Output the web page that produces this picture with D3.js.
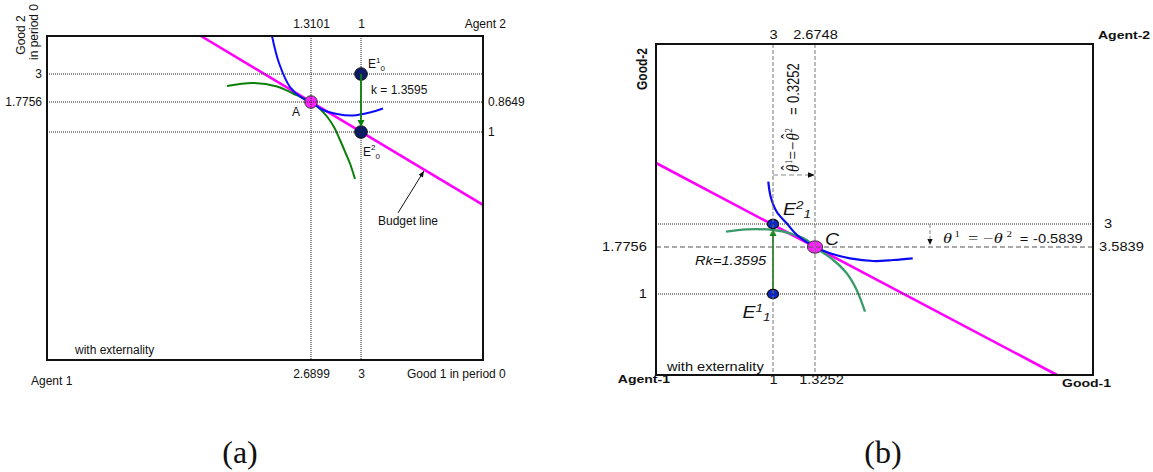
<!DOCTYPE html>
<html><head><meta charset="utf-8">
<script src="https://cdn.jsdelivr.net/npm/d3@7"></script>
<style>body{margin:0;background:#fff} svg{display:block}</style>
</head><body>
<svg id="c" width="1153" height="472"></svg>
<script>
// ================= DATA : panel (a) =================
const aXKnots = [0, 2.6899, 3, 4];            // agent-1 good 1 (schematic knots)
const aYKnots = [0, 1, 1.7756, 3, 4.5];       // agent-1 good 2 (schematic knots)
const aGridX = [2.6899, 3];
const aGridY = [3, 1.7756, 1];
const aBottomTicks = [2.6899, 3];
const aBottomLabels = ["2.6899", "3"];
const aTopLabels = ["1.3101", "1"];
const aLeftTicks = [3, 1.7756];
const aLeftLabels = ["3", "1.7756"];
const aRightTicks = [1.7756, 1];
const aRightLabels = ["0.8649", "1"];
const aBudget = [[1.569, 4.5], [4, 0.680]];
const aBlueCurve = [[2.2925, 4.5], [2.3638, 3.434], [2.4759, 2.4316], [2.5982, 1.9505], [2.6899, 1.7756],
  [2.7581, 1.5817], [2.8511, 1.4654], [2.9504, 1.4266], [3.0738, 1.5041], [3.1803, 1.6075]];
const aGreenCurve = [[1.834, 2.4753], [2.0989, 2.6065], [2.3435, 2.4534], [2.5065, 2.1473], [2.6899, 1.7756],
  [2.7457, 1.5946], [2.7891, 1.4007], [2.8325, 1.1293], [2.8698, 0.9649], [2.9070, 0.9035], [2.9318, 0.8618], [2.9628, 0.7939]];
const aEndowments = [[3, 3], [3, 1]];
const aEquilibrium = [2.6899, 1.7756];
const aTransfer = [[3, 3], [3, 1.129]];
const aPointer = [[3.303, 0.645], [3.516, 0.829]];

// ================= DATA : panel (b) =================
const bXKnots = [0, 1, 1.3252, 4];
const bYKnots = [0, 1, 1.7756, 2.3595, 5.3595];
const bGridX = [1, 1.3252];
const bGridYDotted = [2.3595, 1];
const bGridYDashed = [1.7756];
const bBottomTicks = [1, 1.3252];
const bBottomLabels = ["1", "1.3252"];
const bTopLabels = ["3", "2.6748"];
const bLeftTicks = [1.7756, 1];
const bLeftLabels = ["1.7756", "1"];
const bRightTicks = [2.3595, 1.7756];
const bRightLabels = ["3", "3.5839"];
const bBudget = [[0, 3.376], [3.6537, 0]];
const bBlueCurve = [[0.9598, 3.0645], [0.9803, 2.8145], [1.0286, 2.5645], [1.1061, 2.3712], [1.1858, 2.0802], [1.3252, 1.7756],
  [1.4695, 1.6716], [1.6620, 1.5891], [1.8862, 1.5446], [2.0786, 1.5611], [2.2653, 1.5891]];
const bGreenCurve = [[0.5983, 2.1640], [0.7752, 2.2249], [1.0023, 2.2072], [1.1316, 2.1234], [1.2609, 1.9533], [1.3252, 1.7756],
  [1.5013, 1.5611], [1.6302, 1.3416], [1.7264, 1.0660], [1.8063, 0.7815]];
const bEndowments = [[1, 2.3595], [1, 1]];
const bEquilibrium = [1.3252, 1.7756];
const bTransfer = [[1, 1], [1, 2.2326]];
const bThetaHatArrow = [[1, 3.1762], [1.3252, 3.1762]];
const bThetaArrow = [[2.4317, 2.3595], [2.4317, 1.8264]];

// ================= LAYOUT =================
const SANS = "'Liberation Sans', Arial, sans-serif";
const SERIF = "'Liberation Serif', 'Times New Roman', serif";
const A = {x0: 47, x1: 483, y0: 36, y1: 360, xr: [47, 311, 361, 483], yr: [360, 132, 102, 74, 36]};
const B = {x0: 656, x1: 1093, y0: 44, y1: 375, xr: [656, 773, 815, 1093], yr: [375, 294, 247, 224, 44]};
const SX = 1.22; // horizontal stretch of panel (b) lettering

const svg = d3.select("#c");

function label(g, x, y, parts, o = {}) {
  const t = g.append("text")
    .attr("transform", `translate(${x},${y})` + (o.sx ? ` scale(${o.sx},1)` : "") + (o.rot ? ` rotate(${o.rot})` : ""))
    .attr("text-anchor", o.anchor || "start")
    .attr("font-family", o.family || SANS)
    .attr("font-size", o.size || 12)
    .attr("font-weight", o.weight || "normal")
    .attr("font-style", o.style || "normal")
    .attr("fill", o.fill || "#111");
  if (typeof parts === "string") t.text(parts);
  else parts.forEach(p => { const s = t.append("tspan").text(p.t); for (const k in p) if (k !== "t") s.attr(k, p[k]); });
  return t;
}
function arrowHead(g, p0, p1, len, half, fill) {
  const dx = p1[0] - p0[0], dy = p1[1] - p0[1], L = Math.hypot(dx, dy), ux = dx / L, uy = dy / L;
  const bx = p1[0] - ux * len, by = p1[1] - uy * len;
  g.append("path").attr("d", `M${p1[0]},${p1[1]}L${bx - uy * half},${by + ux * half}L${bx + uy * half},${by - ux * half}Z`)
    .attr("fill", fill).attr("stroke", "none");
}
function styleAxis(g, size, stretch, shifts) {
  g.select(".domain").remove();
  g.selectAll(".tick line").remove();
  g.selectAll("text").attr("font-family", SANS).attr("font-size", size).attr("fill", "#111");
  if (stretch) g.selectAll("text").attr("transform", `scale(${stretch},1)`);
  if (shifts) g.selectAll(".tick text").attr("dx", (d, i) => shifts[i] / (stretch || 1));
}

// ================= PANEL (a) =================
{
  const g = svg.append("g");
  const x = d3.scaleLinear().domain(aXKnots).range(A.xr);
  const y = d3.scaleLinear().domain(aYKnots).range(A.yr);
  const line = d3.line().x(d => x(d[0])).y(d => y(d[1]));
  const smooth = d3.line().x(d => x(d[0])).y(d => y(d[1])).curve(d3.curveCatmullRom.alpha(0.5));

  g.append("path").attr("d", line(aBudget)).attr("stroke", "#ff00ff").attr("stroke-width", 2.6).attr("fill", "none");
  g.append("path").attr("d", smooth(aGreenCurve)).attr("stroke", "#0a800a").attr("stroke-width", 2).attr("fill", "none");
  g.append("path").attr("d", smooth(aBlueCurve)).attr("stroke", "#0a0aff").attr("stroke-width", 2).attr("fill", "none");

  g.selectAll(".endow").data(aEndowments).join("circle")
    .attr("cx", d => x(d[0])).attr("cy", d => y(d[1])).attr("r", 6.3)
    .attr("fill", "#0b1a6e").attr("stroke", "#111").attr("stroke-width", 1);
  g.append("circle").attr("cx", x(aEquilibrium[0])).attr("cy", y(aEquilibrium[1])).attr("r", 6.3)
    .attr("fill", "#ff22ff").attr("stroke", "#333").attr("stroke-width", 1);

  // dotted guides
  aGridX.forEach(v => g.append("line").attr("x1", x(v)).attr("x2", x(v)).attr("y1", A.y0).attr("y2", A.y1)
    .attr("stroke", "#222").attr("stroke-width", 1).attr("stroke-dasharray", "1,1"));
  aGridY.forEach(v => g.append("line").attr("x1", A.x0).attr("x2", A.x1).attr("y1", y(v)).attr("y2", y(v))
    .attr("stroke", "#222").attr("stroke-width", 1).attr("stroke-dasharray", "1,1"));

  // transfer arrow
  const t0 = [x(aTransfer[0][0]), y(aTransfer[0][1])], t1 = [x(aTransfer[1][0]), y(aTransfer[1][1])];
  g.append("line").attr("x1", t0[0]).attr("y1", t0[1]).attr("x2", t1[0]).attr("y2", t1[1] - 5)
    .attr("stroke", "#0a800a").attr("stroke-width", 1.8);
  arrowHead(g, t0, t1, 7, 3.5, "#0a800a");

  // budget line pointer
  const p0 = [x(aPointer[0][0]), y(aPointer[0][1])], p1 = [x(aPointer[1][0]), y(aPointer[1][1])];
  g.append("line").attr("x1", p0[0]).attr("y1", p0[1]).attr("x2", p1[0]).attr("y2", p1[1]).attr("stroke", "#111").attr("stroke-width", 1);
  arrowHead(g, p0, p1, 6, 2.5, "#111");

  // frame
  g.append("rect").attr("x", A.x0).attr("y", A.y0).attr("width", A.x1 - A.x0).attr("height", A.y1 - A.y0)
    .attr("fill", "none").attr("stroke", "#111").attr("stroke-width", 2);

  // axes (labels only)
  g.append("g").attr("transform", `translate(0,${A.y1})`)
    .call(d3.axisBottom(x).tickValues(aBottomTicks).tickSize(0).tickPadding(9.5).tickFormat(d => aBottomLabels[aBottomTicks.indexOf(d)]))
    .call(s => styleAxis(s, 12));
  g.append("g").attr("transform", `translate(0,${A.y0})`)
    .call(d3.axisTop(x).tickValues(aBottomTicks).tickSize(0).tickPadding(8).tickFormat(d => aTopLabels[aBottomTicks.indexOf(d)]))
    .call(s => styleAxis(s, 12));
  g.append("g").attr("transform", `translate(${A.x0},0)`)
    .call(d3.axisLeft(y).tickValues(aLeftTicks).tickSize(0).tickPadding(5).tickFormat(d => aLeftLabels[aLeftTicks.indexOf(d)]))
    .call(s => styleAxis(s, 12));
  g.append("g").attr("transform", `translate(${A.x1},0)`)
    .call(d3.axisRight(y).tickValues(aRightTicks).tickSize(0).tickPadding(5).tickFormat(d => aRightLabels[aRightTicks.indexOf(d)]))
    .call(s => styleAxis(s, 12, null, [0, 0]));

  const ex = x(aEndowments[0][0]);
  label(g, ex + 7, y(aEndowments[0][1]) - 6, [{t: "E"}, {t: "1", "font-size": 8, dy: -5}, {t: "0", "font-size": 8, dy: 8}]);
  label(g, ex + 10, 94, "k = 1.3595");
  label(g, x(aEquilibrium[0]) - 19, y(aEquilibrium[1]) + 14, "A");
  label(g, ex + 2, y(aEndowments[1][1]) + 24, [{t: "E"}, {t: "2", "font-size": 8, dy: -6}, {t: "0", "font-size": 8, dy: 9}]);
  label(g, 378, 225, "Budget line");
  label(g, 75, 354, "with externality");
  label(g, 31, 385, "Agent 1");
  label(g, 506, 28, "Agent 2", {anchor: "end"});
  label(g, 407, 378, "Good 1 in period 0");
  label(g, 24.5, 35, "Good 2", {anchor: "middle", rot: -90});
  label(g, 37.5, 32, "in period 0", {anchor: "middle", rot: -90});
  label(g, 240, 463, "(a)", {anchor: "middle", family: SERIF, size: 32});
}

// ================= PANEL (b) =================
{
  const g = svg.append("g");
  const x = d3.scaleLinear().domain(bXKnots).range(B.xr);
  const y = d3.scaleLinear().domain(bYKnots).range(B.yr);
  const line = d3.line().x(d => x(d[0])).y(d => y(d[1]));
  const smooth = d3.line().x(d => x(d[0])).y(d => y(d[1])).curve(d3.curveCatmullRom.alpha(0.5));

  g.append("path").attr("d", line(bBudget)).attr("stroke", "#ff00ff").attr("stroke-width", 2.6).attr("fill", "none");
  g.append("path").attr("d", smooth(bGreenCurve)).attr("stroke", "#3a9a6a").attr("stroke-width", 2.3).attr("fill", "none");
  g.append("path").attr("d", smooth(bBlueCurve)).attr("stroke", "#0a0af0").attr("stroke-width", 2.2).attr("fill", "none");

  // transfer arrow (under endowment dots)
  const t0 = [x(bTransfer[0][0]), y(bTransfer[0][1])], t1 = [x(bTransfer[1][0]), y(bTransfer[1][1])];
  g.append("line").attr("x1", t0[0]).attr("y1", t0[1]).attr("x2", t1[0]).attr("y2", t1[1] + 5)
    .attr("stroke", "#108a10").attr("stroke-width", 1.8);
  arrowHead(g, t0, t1, 7, 3.5, "#108a10");

  g.selectAll(".endow").data(bEndowments).join("ellipse")
    .attr("cx", d => x(d[0])).attr("cy", d => y(d[1])).attr("rx", 4.6 * SX).attr("ry", 4.6)
    .attr("fill", "#0a2ad8").attr("stroke", "#111").attr("stroke-width", 1.2);
  g.append("ellipse").attr("cx", x(bEquilibrium[0])).attr("cy", y(bEquilibrium[1])).attr("rx", 6.2 * SX).attr("ry", 6.2)
    .attr("fill", "#ff22ff").attr("stroke", "#333").attr("stroke-width", 1);

  // guides
  bGridX.forEach(v => g.append("line").attr("x1", x(v)).attr("x2", x(v)).attr("y1", B.y0).attr("y2", B.y1)
    .attr("stroke", "#777").attr("stroke-width", 1).attr("stroke-dasharray", "4,2"));
  bGridYDotted.forEach(v => g.append("line").attr("x1", B.x0).attr("x2", B.x1).attr("y1", y(v)).attr("y2", y(v))
    .attr("stroke", "#222").attr("stroke-width", 1).attr("stroke-dasharray", "1,1"));
  bGridYDashed.forEach(v => g.append("line").attr("x1", B.x0).attr("x2", B.x1).attr("y1", y(v)).attr("y2", y(v))
    .attr("stroke", "#555").attr("stroke-width", 1).attr("stroke-dasharray", "5,3"));

  // theta arrows
  const h0 = [x(bThetaHatArrow[0][0]), y(bThetaHatArrow[0][1])], h1 = [x(bThetaHatArrow[1][0]), y(bThetaHatArrow[1][1])];
  g.append("line").attr("x1", h0[0]).attr("y1", h0[1]).attr("x2", h1[0] - 5).attr("y2", h1[1])
    .attr("stroke", "#888").attr("stroke-width", 1).attr("stroke-dasharray", "5,3");
  arrowHead(g, h0, h1, 7, 2.8, "#111");
  const v0 = [x(bThetaArrow[0][0]), y(bThetaArrow[0][1])], v1 = [x(bThetaArrow[1][0]), y(bThetaArrow[1][1])];
  g.append("line").attr("x1", v0[0]).attr("y1", v0[1]).attr("x2", v1[0]).attr("y2", v1[1] - 5)
    .attr("stroke", "#888").attr("stroke-width", 1).attr("stroke-dasharray", "4,2");
  arrowHead(g, v0, v1, 6, 2.6, "#111");

  // frame
  g.append("rect").attr("x", B.x0).attr("y", B.y0).attr("width", B.x1 - B.x0).attr("height", B.y1 - B.y0)
    .attr("fill", "none").attr("stroke", "#111").attr("stroke-width", 2);

  // axes (labels only)
  g.append("g").attr("transform", `translate(0,${B.y1})`)
    .call(d3.axisBottom(x).tickValues(bBottomTicks).tickSize(0).tickPadding(0).tickFormat(d => bBottomLabels[bBottomTicks.indexOf(d)]))
    .call(s => styleAxis(s, 12, SX, [0, 6]));
  g.append("g").attr("transform", `translate(0,${B.y0})`)
    .call(d3.axisTop(x).tickValues(bBottomTicks).tickSize(0).tickPadding(5).tickFormat(d => bTopLabels[bBottomTicks.indexOf(d)]))
    .call(s => styleAxis(s, 12, SX));
  g.append("g").attr("transform", `translate(${B.x0},0)`)
    .call(d3.axisLeft(y).tickValues(bLeftTicks).tickSize(0).tickPadding(7.5).tickFormat(d => bLeftLabels[bLeftTicks.indexOf(d)]))
    .call(s => styleAxis(s, 12, SX));
  g.append("g").attr("transform", `translate(${B.x1},0)`)
    .call(d3.axisRight(y).tickValues(bRightTicks).tickSize(0).tickPadding(5).tickFormat(d => bRightLabels[bRightTicks.indexOf(d)]))
    .call(s => styleAxis(s, 12, SX, [5, 0]));

  const o = {sx: SX};
  label(g, 670, 383, "Agent-1", {...o, weight: "bold", size: 11.5, anchor: "end"});
  label(g, 1098, 38.5, "Agent-2", {...o, weight: "bold", size: 11.5});
  label(g, 1062, 387, "Good-1", {...o, weight: "bold", size: 11.5});
  label(g, 646.5, 69, "Good-2", {...o, weight: "bold", size: 12, anchor: "middle", rot: -90});
  label(g, 667, 371, "with externality", o);
  label(g, 695, 265, "Rk=1.3595", {...o, style: "italic"});
  label(g, 825, 245, "C", {...o, style: "italic", size: 16});
  label(g, 783, 215, [{t: "E"}, {t: "2", "font-size": 11, dy: -6}, {t: "1", "font-size": 11, dy: 9}], {...o, style: "italic", size: 16});
  label(g, 742.5, 318, [{t: "E"}, {t: "1", "font-size": 11, dy: -6}, {t: "1", "font-size": 11, dy: 9}], {...o, style: "italic", size: 16});

  // horizontal theta label: each piece placed along its own baseline (lx = distance along the text)
  const hx = 943, hy = 243;
  const hPieces = [
    {t: "\u03b8", lx: 0, ly: 0, f: SERIF, s: 15, st: "italic"},
    {t: "1", lx: 9.5, ly: -6, f: SERIF, s: 9},
    {t: "=", lx: 20.5, ly: 0, f: SERIF, s: 15},
    {t: "\u2212", lx: 32.5, ly: 0, f: SERIF, s: 15},
    {t: "\u03b8", lx: 41.5, ly: 0, f: SERIF, s: 15, st: "italic"},
    {t: "2", lx: 52, ly: -6, f: SERIF, s: 9},
    {t: "=", lx: 63, ly: 0, f: SANS, s: 12},
    {t: "-0.5839", lx: 73.8, ly: 0, f: SANS, s: 12}
  ];
  hPieces.forEach(p => label(g, hx + SX * p.lx, hy + p.ly, p.t, {sx: SX, family: p.f, size: p.s, style: p.st}));

  // rotated theta-hat label (reads bottom to top)
  const rx = 799, ry = 172;
  const rPieces = [
    {t: "\u03b8", lx: 0, ly: 0, f: SERIF, s: 15, st: "italic"},
    {t: "\u02c6", lx: 1.5, ly: -4, f: SERIF, s: 15},
    {t: "1", lx: 8, ly: -5.5, f: SERIF, s: 8.5},
    {t: "=", lx: 12.5, ly: 0, f: SERIF, s: 15},
    {t: "\u2212", lx: 22, ly: 0, f: SERIF, s: 15},
    {t: "\u03b8", lx: 31.5, ly: 0, f: SERIF, s: 15, st: "italic"},
    {t: "\u02c6", lx: 33, ly: -4, f: SERIF, s: 15},
    {t: "2", lx: 39.5, ly: -5.5, f: SERIF, s: 8.5},
    {t: "=", lx: 57, ly: 0, f: SANS, s: 13},
    {t: "0.3252", lx: 69, ly: 0, f: SANS, s: 13}
  ];
  rPieces.forEach(p => label(g, rx + SX * p.ly, ry - p.lx, p.t, {sx: SX, rot: -90, family: p.f, size: p.s, style: p.st}));

  label(g, 883, 463, "(b)", {anchor: "middle", family: SERIF, size: 32});
}
</script>
</body></html>
